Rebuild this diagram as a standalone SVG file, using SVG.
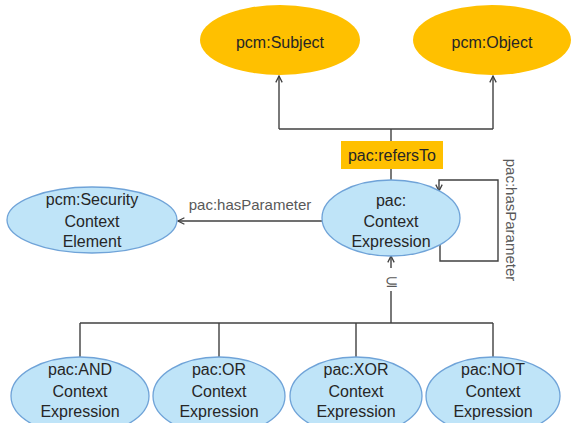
<svg xmlns="http://www.w3.org/2000/svg" width="571" height="423" viewBox="0 0 571 423">
<defs>
<style>
.t{font-family:"Liberation Sans",Arial,sans-serif;font-size:16px;fill:#262626;text-anchor:middle}
.lbl{font-family:"Liberation Sans",Arial,sans-serif;font-size:15px;fill:#595959;text-anchor:middle}
.or{fill:#FFC000;stroke:none}
.bl{fill:#BFE4F8;stroke:#6FA3D8;stroke-width:1.3}
.c{fill:none;stroke:#404040;stroke-width:1.4}
.a{marker-end:url(#arr)}
</style>
<marker id="arr" viewBox="0 0 10 10" refX="9" refY="5" markerWidth="8" markerHeight="8" markerUnits="userSpaceOnUse" orient="auto">
<path d="M1,1 L9,5 L1,9" fill="none" stroke="#404040" stroke-width="1.6"/>
</marker>
</defs>
<rect width="571" height="423" fill="#fff"/>
<g id="connectors">
<path class="c" d="M279,129 H493"/>
<path class="c a" d="M279,129 V76"/>
<path class="c a" d="M493,129 V76"/>
<path class="c" d="M391,129 V141"/>
<path class="c" d="M391,169 V180"/>
<path class="c a" d="M323,221 H178"/>
<path class="c a" d="M440,245 V261 H498 V180 H439 V191"/>
<path class="c a" d="M391,268 V256"/>
<path class="c" d="M391,291 V323"/>
<path class="c" d="M80,323 H493"/>
<path class="c" d="M80,323 V357"/>
<path class="c" d="M219,323 V357"/>
<path class="c" d="M356,323 V357"/>
<path class="c" d="M493,323 V357"/>
<text class="lbl" x="250" y="210">pac:hasParameter</text>
<text class="lbl" transform="translate(506,220) rotate(90)">pac:hasParameter</text>
<text class="lbl" x="391" y="287" style="font-size:16px">⊆</text>
</g>
<g id="subject">
<ellipse class="or" cx="280" cy="40" rx="80" ry="35"/>
<text class="t" x="280" y="48">pcm:Subject</text>
</g>
<g id="object">
<ellipse class="or" cx="492" cy="40" rx="79" ry="35"/>
<text class="t" x="492" y="48">pcm:Object</text>
</g>
<g id="refersTo">
<rect class="or" x="341" y="141" width="102" height="28"/>
<text class="t" x="392" y="161">pac:refersTo</text>
</g>
<g id="security">
<ellipse class="bl" cx="92" cy="220" rx="85" ry="33"/>
<text class="t" x="92" y="205">pcm:Security</text>
<text class="t" x="92" y="227">Context</text>
<text class="t" x="92" y="247">Element</text>
</g>
<g id="contextExpression">
<ellipse class="bl" cx="391" cy="218" rx="69" ry="38"/>
<text class="t" x="391" y="206">pac:</text>
<text class="t" x="391" y="227">Context</text>
<text class="t" x="391" y="247">Expression</text>
</g>
<g id="and">
<ellipse class="bl" cx="80" cy="396" rx="69" ry="39"/>
<text class="t" x="80" y="375">pac:AND</text>
<text class="t" x="80" y="397">Context</text>
<text class="t" x="80" y="417">Expression</text>
</g>
<g id="or">
<ellipse class="bl" cx="219" cy="396" rx="66" ry="39"/>
<text class="t" x="219" y="375">pac:OR</text>
<text class="t" x="219" y="397">Context</text>
<text class="t" x="219" y="417">Expression</text>
</g>
<g id="xor">
<ellipse class="bl" cx="356" cy="396" rx="66" ry="39"/>
<text class="t" x="356" y="375">pac:XOR</text>
<text class="t" x="356" y="397">Context</text>
<text class="t" x="356" y="417">Expression</text>
</g>
<g id="not">
<ellipse class="bl" cx="493" cy="396" rx="67" ry="39"/>
<text class="t" x="493" y="375">pac:NOT</text>
<text class="t" x="493" y="397">Context</text>
<text class="t" x="493" y="417">Expression</text>
</g>
</svg>
